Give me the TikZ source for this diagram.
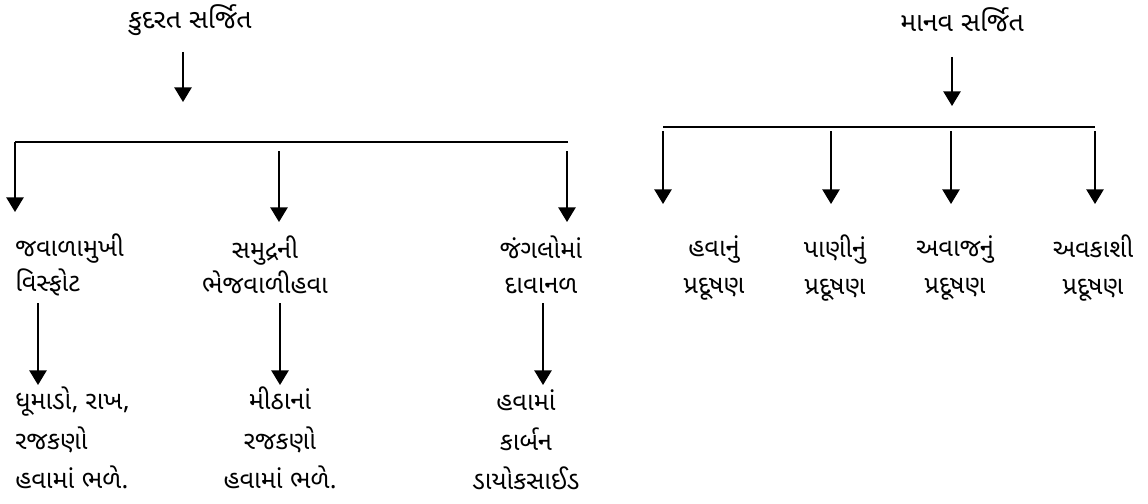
\documentclass[tikz,border=0pt]{standalone}
\usepackage{fontspec}
\newfontfamily\guj[Script=Gujarati]{Noto Sans Gujarati UI}
\usetikzlibrary{arrows.meta}
\begin{document}
\begin{tikzpicture}[x=0.75pt,y=-0.75pt,
  lbl/.style={font=\guj\fontsize{19}{26.25}\selectfont, align=center, inner sep=0pt},
  lblb/.style={font=\guj\fontsize{19}{29.6}\selectfont, align=center, inner sep=0pt},
  lblr/.style={font=\guj\fontsize{19}{27.75}\selectfont, align=center, inner sep=0pt},
  bar/.style={line width=1.4pt},
  conn/.style={line width=1.2pt, -{Triangle[width=13pt,length=11pt]}}]
\useasboundingbox (0,0) rectangle (1148,503);
% titles
\node[lbl, font=\guj\fontsize{20}{26}\selectfont] (t1) at (190,20) {કુદરત સર્જિત};
\node[lbl, font=\guj\fontsize{20}{26}\selectfont] (t2) at (962,20) {માનવ સર્જિત};
% left tree
\coordinate (a1s) at (183,52);
\coordinate (a1e) at (183,102);
\draw[conn] (a1s) -- (a1e);
\coordinate (lb1) at (15,142);
\coordinate (lb2) at (568,142);
\draw[bar] (lb2) -- (lb1);
\coordinate (lm1) at (279,151);
\coordinate (lr1) at (567,151);
\coordinate (ll2) at (15,212);
\coordinate (lm2) at (279,222);
\coordinate (lr2) at (567,222);
\draw[conn] (lb1) -- (ll2);
\draw[conn] (lm1) -- (lm2);
\draw[conn] (lr1) -- (lr2);
\node[lbl, align=left, anchor=west] (c1) at (15,265) {જવાળામુખી\\વિસ્ફોટ};
\node[lbl] (c2) at (265,265) {સમુદ્રની\\ભેજવાળીહવા};
\node[lbl] (c3) at (541,265) {જંગલોમાં\\દાવાનળ};
\coordinate (d1s) at (38,303);
\coordinate (d2s) at (280,303);
\coordinate (d3s) at (543,303);
\coordinate (d1e) at (38,385);
\coordinate (d2e) at (280,385);
\coordinate (d3e) at (543,385);
\draw[conn] (d1s) -- (d1e);
\draw[conn] (d2s) -- (d2e);
\draw[conn] (d3s) -- (d3e);
\node[lblb, align=left, anchor=west] (e1) at (15,438) {ધૂમાડો, રાખ,\\રજકણો\\હવામાં ભળે.};
\node[lblb] (e2) at (280,438) {મીઠાનાં\\રજકણો\\હવામાં ભળે.};
\node[lblb] (e3) at (526,440) {હવામાં\\કાર્બન\\ડાયોકસાઈડ};
% right tree
\coordinate (a2s) at (952,57);
\coordinate (a2e) at (952,106);
\draw[conn] (a2s) -- (a2e);
\coordinate (rb1) at (663,127);
\coordinate (rb2) at (1095,127);
\draw[bar] (rb1) -- (rb2);
\foreach \x/\n in {663/1,831/2,951/3,1095/4}{
  \coordinate (rs\n) at (\x,131);
  \coordinate (re\n) at (\x,204);
  \draw[conn] (rs\n) -- (re\n);
}
\node[lblr] (p1) at (714,268) {હવાનું\\પ્રદૂષણ};
\node[lblr] (p2) at (835,268) {પાણીનું\\પ્રદૂષણ};
\node[lblr] (p3) at (955,268) {અવાજનું\\પ્રદૂષણ};
\node[lblr] (p4) at (1093,268) {અવકાશી\\પ્રદૂષણ};
\end{tikzpicture}
\end{document}
